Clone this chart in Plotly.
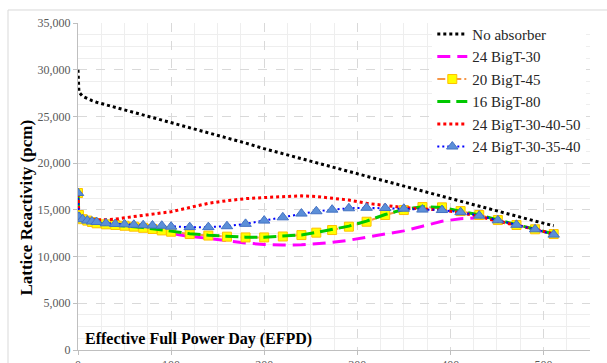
import plotly.graph_objects as go

days = [0, 1, 5, 10, 15, 20, 30, 40, 50, 60, 70, 80, 90, 100, 120, 140, 160, 180, 200, 220,
        240, 256, 273, 291, 310, 330, 350, 370, 391, 411, 431, 451, 471, 491, 511]

no_absorber = [30000, 27600, 27150, 26900, 26700, 26520, 26250, 25980, 25720, 25450, 25180, 24900,
               24630, 24350, 23800, 23250, 22700, 22150, 21550, 21000, 20450, 20020, 19580, 19100,
               18600, 18080, 17550, 17000, 16450, 15900, 15350, 14800, 14300, 13800, 13300]
bigt_24_30 = [16800, 14400, 13950, 13800, 13650, 13550, 13420, 13330, 13230, 13100, 12950, 12800,
              12650, 12500, 12150, 11950, 11700, 11450, 11300, 11230, 11260, 11380, 11520, 11750,
              12050, 12380, 12750, 13250, 13780, 14050, 14150, 13850, 13350, 12900, 12380]
bigt_20_45 = [16800, 14450, 14000, 13850, 13700, 13560, 13450, 13380, 13300, 13200, 13080, 12950,
              12800, 12660, 12410, 12250, 12130, 12050, 12050, 12150, 12300, 12560, 12840, 13200,
              13730, 14450, 14980, 15300, 15270, 14870, 14450, 13910, 13380, 12920, 12410]
bigt_16_80 = [16700, 14400, 13950, 13800, 13680, 13580, 13460, 13380, 13300, 13220, 13100, 12980,
              12830, 12700, 12450, 12280, 12150, 12080, 12070, 12160, 12320, 12580, 12880, 13260,
              13800, 14500, 15050, 15330, 15250, 14880, 14450, 13920, 13400, 12930, 12420]
bigt_24_30_40_50 = [16700, 14300, 14100, 14000, 13950, 13920, 13950, 14000, 14150, 14270, 14380, 14520,
                    14650, 14800, 15250, 15700, 15980, 16200, 16320, 16420, 16500, 16430, 16280, 16050,
                    15700, 15450, 15250, 15100, 14980, 14700, 14300, 13780, 13380, 12920, 12420]
bigt_24_30_35_40 = [16800, 14250, 14000, 13850, 13750, 13700, 13560, 13490, 13450, 13400, 13350, 13320,
                    13300, 13200, 13150, 13150, 13250, 13500, 13850, 14200, 14600, 14850, 15020, 15170,
                    15220, 15200, 15120, 15030, 14980, 14750, 14380, 13880, 13400, 12920, 12350]

series_names = ["No absorber", "24 BigT-30", "20 BigT-45", "16 BigT-80",
                "24 BigT-30-40-50", "24 BigT-30-35-40"]

SERIF = "Liberation Serif"

fig = go.Figure()

fig.add_trace(go.Scatter(x=days, y=no_absorber, name=series_names[0], mode="lines",
                         line=dict(color="#000000", width=3, dash="3px,3px")))
fig.add_trace(go.Scatter(x=days, y=bigt_24_30, name=series_names[1], mode="lines",
                         line=dict(color="#ff00ff", width=3, dash="13px,7px")))
fig.add_trace(go.Scatter(x=days, y=bigt_20_45, name=series_names[2], mode="lines+markers",
                         line=dict(color="#f79646", width=2, dash="8px,3px,2px,3px"),
                         marker=dict(symbol="square", size=9, color="#ffff00",
                                     line=dict(color="#ffc000", width=1))))
fig.add_trace(go.Scatter(x=days, y=bigt_16_80, name=series_names[3], mode="lines",
                         line=dict(color="#00c800", width=3, dash="13px,6px")))
fig.add_trace(go.Scatter(x=days, y=bigt_24_30_40_50, name=series_names[4], mode="lines",
                         line=dict(color="#ff0000", width=3, dash="3px,3px")))
fig.add_trace(go.Scatter(x=days, y=bigt_24_30_35_40, name=series_names[5], mode="lines+markers",
                         line=dict(color="#0000ff", width=2, dash="2px,3px"),
                         marker=dict(symbol="triangle-up", size=10, color="#5b8fd8",
                                     line=dict(color="#4472c4", width=1))))

grid_major = "#d9d9d9"
grid_minor = "#eeeeee"

fig.update_layout(
    width=607, height=363,
    margin=dict(l=78, r=17, t=23, b=13, autoexpand=False),
    paper_bgcolor="white", plot_bgcolor="white",
    showlegend=True,
    legend=dict(x=0.692, y=1.016, xanchor="left", yanchor="top",
                bgcolor="white", borderwidth=0,
                font=dict(family=SERIF, size=15, color="#262626"),
                tracegroupgap=6, traceorder="normal"),
    font=dict(family=SERIF, color="#595959"),
)

fig.update_xaxes(range=[0, 550], dtick=100, tick0=0, showgrid=True, gridcolor=grid_major,
                 griddash="dash", gridwidth=1, zeroline=False,
                 showline=True, linecolor="#bfbfbf", linewidth=1,
                 ticks="outside", ticklen=4, tickcolor="#bfbfbf",
                 tickfont=dict(family=SERIF, size=12, color="#595959"),
                 minor=dict(dtick=25, showgrid=True, gridcolor=grid_minor, griddash="solid"),
                 automargin=False)
fig.update_yaxes(range=[0, 35000], dtick=5000, tick0=0, showgrid=True, gridcolor=grid_major,
                 griddash="dash", gridwidth=1, zeroline=False, tickformat=",d",
                 showline=True, linecolor="#bfbfbf", linewidth=1,
                 ticks="outside", ticklen=4, tickcolor="#bfbfbf",
                 tickfont=dict(family=SERIF, size=12, color="#595959"),
                 minor=dict(dtick=1250, showgrid=True, gridcolor=grid_minor, griddash="solid"),
                 automargin=False)

fig.add_annotation(text="<b>Effective Full Power Day (EFPD)</b>", xref="paper", yref="paper",
                   x=0.01, y=0.035, xanchor="left", yanchor="middle", showarrow=False,
                   font=dict(family=SERIF, size=16, color="#000000"))
fig.add_annotation(text="<b>Lattice Reactivity (pcm)</b>", xref="paper", yref="paper",
                   x=-0.1, y=0.435, xanchor="center", yanchor="middle", showarrow=False,
                   textangle=-90, font=dict(family=SERIF, size=17, color="#000000"))

# outer chart frame
fig.add_shape(type="rect", xref="paper", yref="paper", x0=-0.1367, y0=-0.2, x1=1.2, y1=1.0398,
              line=dict(color="#d9d9d9", width=1), fillcolor="rgba(0,0,0,0)", layer="below")

fig.write_html("out.html")
